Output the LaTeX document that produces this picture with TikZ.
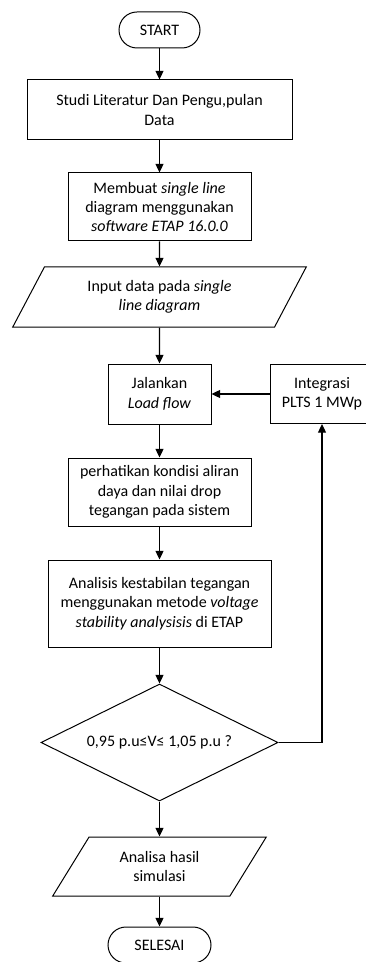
\documentclass[tikz,border=0pt]{standalone}
\usepackage{fontspec}
\setmainfont{Carlito}
\usepackage{tikz}
\usetikzlibrary{
  arrows.meta,
  shapes,
  shapes.geometric,
  positioning,
  calc
}
\tikzset{
  fcnode/.style={
    draw, line width=0.75pt, align=center, inner sep=2pt,
    font=\fontsize{12}{14.6}\selectfont
  },
  terminal/.style={fcnode, rounded corners=13.5pt, minimum width=77.25pt, minimum height=27pt},
  procbox/.style={fcnode, rectangle},
  iobox/.style={fcnode, trapezium, trapezium left angle=62, trapezium right angle=118,
    trapezium stretches=true},
  decision/.style={fcnode, diamond, aspect=2, inner sep=0pt},
  flow/.style={-{Triangle[length=6.5pt, width=6pt]}, line width=0.9pt}
}

\begin{document}
\begin{tikzpicture}[x=0.75pt, y=-0.75pt]
  \useasboundingbox (0,0) rectangle (366,962);
  \node[terminal, minimum width=60.75pt] (start) at (159.5,30) {START};
  \node[procbox, minimum width=198.75pt, minimum height=45pt] (studi) at (159.5,110)
    {Studi Literatur Dan Pengu,pulan\\Data};
  \node[procbox, minimum width=137.25pt, minimum height=51pt] (sld) at (159.5,207)
    {Membuat \textit{single line}\\diagram menggunakan\\\textit{software ETAP 16.0.0}};
  \node[iobox, minimum width=220.5pt, minimum height=45pt] (input) at (159.5,297)
    {Input data pada \textit{single}\\\textit{line diagram}};
  \node[procbox, minimum width=77.25pt, minimum height=45pt] (loadflow) at (159.5,394)
    {Jalankan\\\textit{Load flow}};
  % right side of this box runs off the page
  \node[procbox, minimum width=78pt, minimum height=44.25pt] (plts) at (322,394)
    {Integrasi\\PLTS 1 MWp};
  \node[procbox, minimum width=137.25pt, minimum height=51pt] (kondisi) at (159.5,492)
    {perhatikan kondisi aliran\\daya dan nilai drop\\tegangan pada sistem};
  \node[procbox, minimum width=167.25pt, minimum height=65.25pt] (vsa) at (159.5,603.5)
    {Analisis kestabilan tegangan\\menggunakan metode \textit{voltage}\\\textit{stability analysisis} di ETAP};
  \node[decision, minimum width=177.75pt, minimum height=87.75pt] (cek) at (159.5,742.5)
    {0,95 p.u≤V≤ 1,05 p.u ?};
  \node[iobox, trapezium left angle=58.6, trapezium right angle=121.4,
    minimum width=160.5pt, minimum height=44.25pt] (hasil) at (159.5,866.5)
    {Analisa hasil\\simulasi};
  \node[terminal] (selesai) at (159.5,945) {SELESAI};

  \foreach \s/\e in {start/studi, studi/sld, sld/input, input/loadflow, loadflow/kondisi,
    kondisi/vsa, vsa/cek, cek/hasil, hasil/selesai}{\draw[flow] (\s) -- (\e);}
  \draw[flow] (plts) -- (loadflow);
  \draw[flow] (cek.east) -| (plts.south);
\end{tikzpicture}
\end{document}
